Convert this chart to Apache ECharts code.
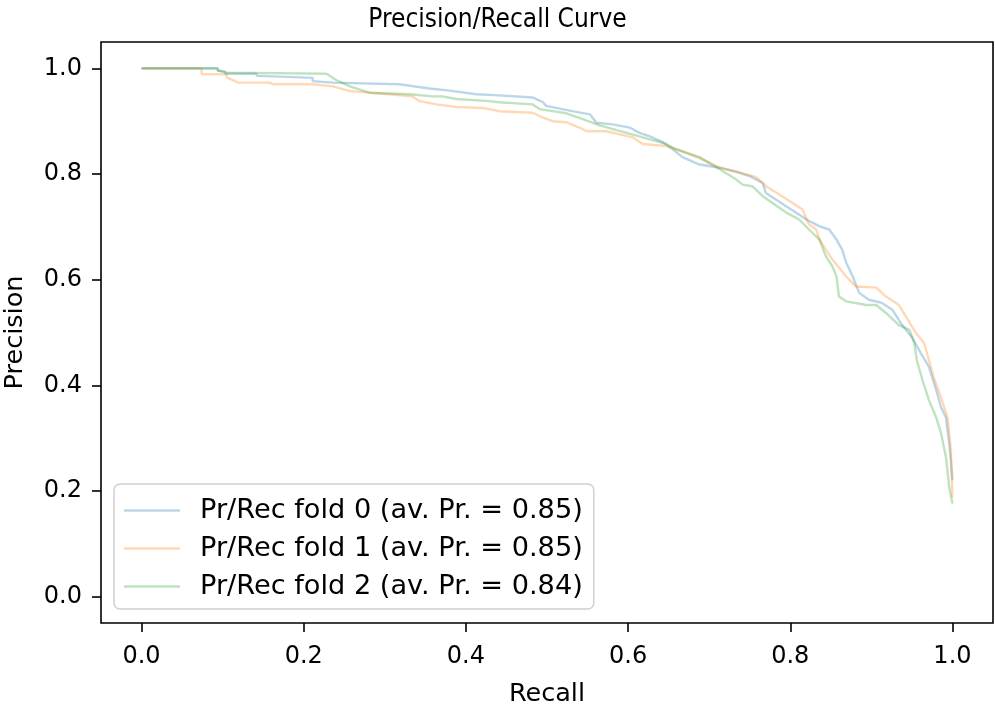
<!DOCTYPE html>
<html>
<head>
<meta charset="utf-8">
<script src="https://cdn.jsdelivr.net/npm/echarts@6/dist/echarts.min.js"></script>
<style>html,body{margin:0;padding:0;background:#fff}#chart{width:995px;height:704px}</style>
</head>
<body>
<div id="chart"></div>
<script>
var titleText = 'Precision/Recall Curve';
var xName = 'Recall';
var yName = 'Precision';
var xTicks = [0.0, 0.2, 0.4, 0.6, 0.8, 1.0];
var yTicks = [0.0, 0.2, 0.4, 0.6, 0.8, 1.0];
var seriesNames = ['Pr/Rec fold 0 (av. Pr. = 0.85)', 'Pr/Rec fold 1 (av. Pr. = 0.85)', 'Pr/Rec fold 2 (av. Pr. = 0.84)'];

var recall0 = [0, 0.094, 0.094, 0.103, 0.103, 0.142, 0.142, 0.162, 0.162, 0.211, 0.211, 0.236, 0.236, 0.318, 0.355, 0.380, 0.413, 0.441, 0.482, 0.495, 0.499, 0.531, 0.553, 0.561, 0.581, 0.602, 0.614, 0.626, 0.642, 0.655, 0.667, 0.688, 0.713, 0.731, 0.750, 0.766, 0.770, 0.795, 0.820, 0.836, 0.848, 0.857, 0.864, 0.869, 0.877, 0.885, 0.897, 0.913, 0.926, 0.938, 0.950, 0.961, 0.971, 0.980, 0.986, 0.992, 0.996, 0.998, 1.0];
var precision0 = [1.0, 1.0, 0.996, 0.994, 0.990, 0.990, 0.986, 0.985, 0.982, 0.982, 0.976, 0.973, 0.971, 0.970, 0.962, 0.958, 0.951, 0.949, 0.945, 0.936, 0.929, 0.919, 0.913, 0.897, 0.894, 0.888, 0.878, 0.872, 0.861, 0.847, 0.832, 0.818, 0.812, 0.805, 0.796, 0.783, 0.764, 0.739, 0.714, 0.701, 0.695, 0.676, 0.657, 0.632, 0.606, 0.575, 0.562, 0.556, 0.543, 0.514, 0.491, 0.461, 0.435, 0.391, 0.358, 0.339, 0.290, 0.258, 0.220];

var recall1 = [0, 0.074, 0.074, 0.105, 0.105, 0.119, 0.158, 0.162, 0.211, 0.236, 0.257, 0.306, 0.334, 0.343, 0.364, 0.388, 0.421, 0.441, 0.482, 0.495, 0.507, 0.524, 0.540, 0.549, 0.573, 0.605, 0.618, 0.647, 0.659, 0.688, 0.713, 0.733, 0.758, 0.770, 0.790, 0.815, 0.823, 0.832, 0.836, 0.852, 0.869, 0.881, 0.906, 0.918, 0.934, 0.943, 0.955, 0.965, 0.971, 0.977, 0.987, 0.994, 0.996, 0.998, 1.0];
var precision1 = [1.0, 1.0, 0.989, 0.989, 0.983, 0.973, 0.973, 0.970, 0.970, 0.966, 0.957, 0.951, 0.947, 0.938, 0.932, 0.927, 0.925, 0.919, 0.916, 0.907, 0.900, 0.898, 0.888, 0.881, 0.881, 0.870, 0.857, 0.853, 0.847, 0.830, 0.812, 0.805, 0.794, 0.777, 0.758, 0.733, 0.705, 0.695, 0.676, 0.638, 0.606, 0.587, 0.585, 0.568, 0.552, 0.529, 0.499, 0.480, 0.448, 0.415, 0.372, 0.339, 0.309, 0.277, 0.188];

var recall2 = [0, 0.094, 0.094, 0.105, 0.105, 0.228, 0.240, 0.257, 0.281, 0.331, 0.359, 0.371, 0.388, 0.429, 0.441, 0.482, 0.491, 0.524, 0.544, 0.565, 0.586, 0.626, 0.647, 0.659, 0.688, 0.713, 0.733, 0.741, 0.753, 0.766, 0.795, 0.811, 0.823, 0.836, 0.844, 0.852, 0.857, 0.860, 0.869, 0.894, 0.906, 0.918, 0.934, 0.947, 0.953, 0.956, 0.963, 0.971, 0.980, 0.986, 0.992, 0.996, 1.0];
var precision2 = [1.0, 1.0, 0.996, 0.992, 0.990, 0.990, 0.978, 0.966, 0.954, 0.951, 0.947, 0.947, 0.942, 0.938, 0.936, 0.932, 0.923, 0.915, 0.904, 0.892, 0.883, 0.866, 0.857, 0.847, 0.832, 0.809, 0.790, 0.780, 0.777, 0.758, 0.727, 0.714, 0.695, 0.676, 0.644, 0.625, 0.606, 0.568, 0.559, 0.552, 0.552, 0.537, 0.514, 0.505, 0.480, 0.448, 0.410, 0.372, 0.339, 0.309, 0.264, 0.207, 0.176];

var colors = ['#1f77b4', '#ff7f0e', '#2ca02c'];

function zip(a, b) { return a.map(function (v, i) { return [v, b[i]]; }); }
var FONT = 'DejaVu Sans';
var chart = echarts.init(document.getElementById('chart'), null, { renderer: 'canvas' });
var pairs = [[recall0, precision0], [recall1, precision1], [recall2, precision2]];
chart.setOption({
  animation: false,
  backgroundColor: '#fff',
  title: { text: titleText, left: 'center', top: 2, textStyle: { fontFamily: "'DejaVu Sans Condensed', 'DejaVu Sans'", fontSize: 26, fontWeight: 'normal', color: '#000' } },
  grid: { left: 101, right: 2, top: 42, bottom: 81, show: true, borderColor: '#000', borderWidth: 1.6, backgroundColor: 'transparent', outerBoundsMode: 'none', containLabel: false },
  legend: {
    orient: 'vertical', left: 114, top: 484,
    data: seriesNames,
    icon: 'rect',
    itemWidth: 56, itemHeight: 2.4, itemGap: 9,
    padding: [12, 11, 8, 10],
    borderColor: '#d0d0d0', borderWidth: 1.5, borderRadius: 6,
    backgroundColor: 'rgba(255,255,255,0.8)',
    textStyle: { fontFamily: FONT, fontSize: 27.2, lineHeight: 29, color: '#000', padding: [0, 0, 0, 15] }
  },
  xAxis: {
    type: 'value', min: -0.05, max: 1.05,
    name: xName, nameLocation: 'middle', nameGap: 58,
    nameTextStyle: { fontFamily: FONT, fontSize: 25.5, color: '#000' },
    axisLine: { show: false, onZero: false },
    splitLine: { show: false },
    axisTick: { show: true, inside: false, length: 9, customValues: xTicks, lineStyle: { color: '#000', width: 1.6 } },
    axisLabel: { customValues: xTicks, margin: 22, fontFamily: FONT, fontSize: 24, color: '#000', formatter: function (v) { return v.toFixed(1); } }
  },
  yAxis: {
    type: 'value', min: -0.05, max: 1.05,
    name: yName, nameLocation: 'middle', nameGap: 73, nameRotate: 90,
    nameTextStyle: { fontFamily: FONT, fontSize: 25.5, color: '#000' },
    axisLine: { show: false, onZero: false },
    splitLine: { show: false },
    axisTick: { show: true, inside: false, length: 9, customValues: yTicks, lineStyle: { color: '#000', width: 1.6 } },
    axisLabel: { customValues: yTicks, margin: 19, fontFamily: FONT, fontSize: 24, color: '#000', formatter: function (v) { return v.toFixed(1); } }
  },
  series: pairs.map(function (p, i) {
    return {
      name: seriesNames[i], type: 'line', data: zip(p[0], p[1]),
      symbol: 'none', showSymbol: false,
      lineStyle: { color: colors[i], width: 2.4, opacity: 0.3 },
      itemStyle: { color: colors[i], opacity: 0.3 }
    };
  })
});
</script>
</body>
</html>
